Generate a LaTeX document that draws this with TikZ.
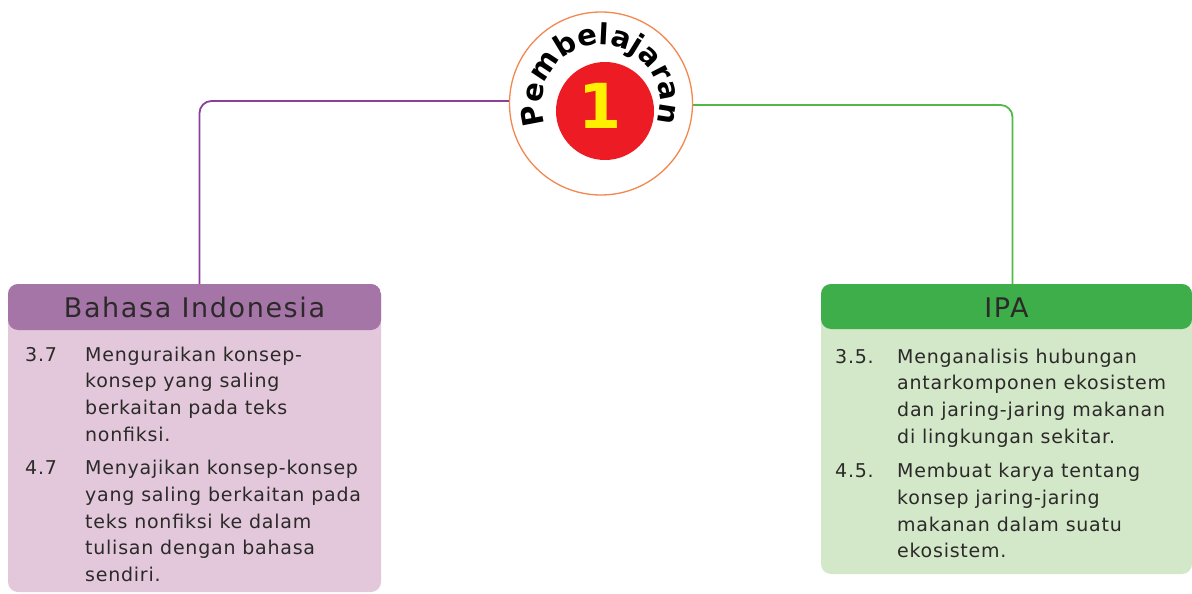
\documentclass[tikz,border=0pt]{standalone}
\usepackage{fontspec}
\setmainfont{DejaVu Sans}
\usetikzlibrary{positioning, decorations.text}

\definecolor{bindohead}{HTML}{A675A8}
\definecolor{bindobody}{HTML}{E3C8DC}
\definecolor{bindoline}{HTML}{8B3E9B}
\definecolor{ipahead}{HTML}{3DAE4A}
\definecolor{ipabody}{HTML}{D3E7C9}
\definecolor{ipaline}{HTML}{52B848}
\definecolor{ringcol}{HTML}{F3874F}
\definecolor{ballcol}{HTML}{ED1C24}
\definecolor{onecol}{HTML}{FFEF00}
\definecolor{inkcol}{HTML}{2B2A29}

\begin{document}
\begin{tikzpicture}[x=1pt, y=1pt,
    subjbox/.style={rectangle, rounded corners=10pt, inner sep=0pt},
    headtext/.style={font=\fontsize{27}{30}\selectfont\addfontfeature{LetterSpace=6}, text=inkcol},
    bodytext/.style={font=\fontsize{19}{26.7}\selectfont\addfontfeature{LetterSpace=4}, text=inkcol, inner sep=0pt},
    link/.style={line width=1.8pt, rounded corners=12pt}
]
\useasboundingbox (0,0) rectangle (1192,-594);

% Center badge
\node[circle, draw=ringcol, line width=1.3pt, fill=white, minimum size=183pt, inner sep=0pt] (bub) at (601,-103.5) {};
\node[circle, fill=ballcol, minimum size=98pt, inner sep=0pt] (ball) at (605,-111) {};
\node[text=onecol, font=\bfseries\fontsize{62}{62}\selectfont] (one) at (600,-106) {1};
\path[decorate, decoration={text along path, text align=fit to path,
    text={|\bfseries\fontsize{29}{29}\selectfont|Pembelajaran}}]
    (bub.center) ++(201:59) arc[start angle=201, end angle=-19, radius=59];

% Bahasa Indonesia
\node[subjbox, fill=bindobody, minimum width=373pt, minimum height=308pt,
    path picture={\fill[bindohead] (path picture bounding box.north west) rectangle ([yshift=-46pt]path picture bounding box.north east);}]
    (bindo) at (194.5,-438) {};
\node[headtext] (bindotitle) at ([yshift=-24pt]bindo.north) {Bahasa Indonesia};
\node[bodytext, anchor=base west] (bindotext) at (25,-361) {%
\begin{tabular}[t]{@{}p{60pt}@{}l@{}}
3.7 & Menguraikan konsep-\\
    & konsep yang saling\\
    & berkaitan pada teks\\
    & nonfiksi.\\[7pt]
4.7 & Menyajikan konsep-konsep\\
    & yang saling berkaitan pada\\
    & teks nonfiksi ke dalam\\
    & tulisan dengan bahasa\\
    & sendiri.
\end{tabular}};

% IPA
\node[subjbox, fill=ipabody, minimum width=371pt, minimum height=290pt,
    path picture={\fill[ipahead] (path picture bounding box.north west) rectangle ([yshift=-45pt]path picture bounding box.north east);}]
    (ipa) at (1006.5,-429) {};
\node[headtext] (ipatitle) at ([yshift=-24pt]ipa.north) {IPA};
\node[bodytext, anchor=base west] (ipatext) at (835,-363) {%
\begin{tabular}[t]{@{}p{62pt}@{}l@{}}
3.5. & Menganalisis hubungan\\
     & antarkomponen ekosistem\\
     & dan jaring-jaring makanan\\
     & di lingkungan sekitar.\\[8pt]
4.5. & Membuat karya tentang\\
     & konsep jaring-jaring\\
     & makanan dalam suatu\\
     & ekosistem.
\end{tabular}};

% Connections
\draw[link, bindoline] ([yshift=2.5pt]bub.west) -| ([xshift=5pt]bindo.north);
\draw[link, ipaline] ([yshift=-1.5pt]bub.east) -| ([xshift=6pt]ipa.north);

\end{tikzpicture}
\end{document}
